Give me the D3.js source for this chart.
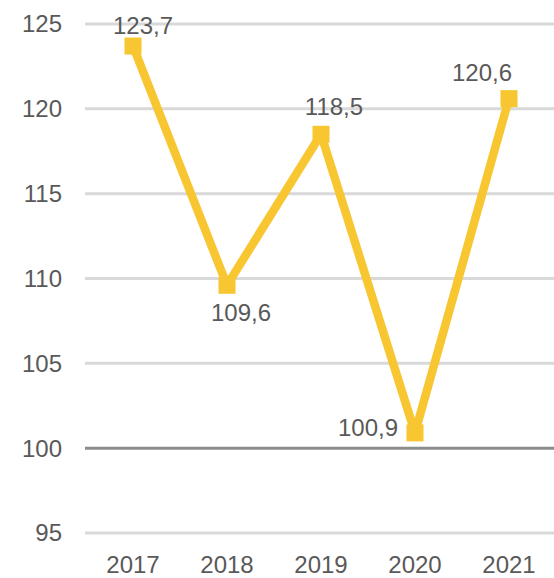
<!DOCTYPE html>
<html>
<head>
<meta charset="utf-8">
<script src="https://cdn.jsdelivr.net/npm/d3@7"></script>
<style>
  body { margin: 0; background: #fff; }
  svg text { font-family: "Liberation Sans", Arial, sans-serif; fill: #595959; }
</style>
</head>
<body>
<section></section>
<script>
var width = 554, height = 578;

var years = ["2017", "2018", "2019", "2020", "2021"];
var values = [123.7, 109.6, 118.5, 100.9, 120.6];
var yTicks = [95, 100, 105, 110, 115, 120, 125];
// where each value label sits relative to its marker
var labelOffsets = [[10, -20], [14, 27], [13, -28], [-47, -5], [-27, -26]];

var data = years.map(function(y, i) { return {year: y, value: values[i]}; });

var svg = d3.select("section").append("svg")
  .attr("width", width)
  .attr("height", height);

var xScale = d3.scaleBand()
  .domain(years)
  .range([86, 556]);

var yScale = d3.scaleLinear()
  .domain([95, 125])
  .range([533, 24]);

// gridlines
svg.append("g").selectAll("line")
  .data(yTicks)
  .enter().append("line")
  .attr("x1", 85).attr("x2", width)
  .attr("y1", function(d) { return yScale(d); })
  .attr("y2", function(d) { return yScale(d); })
  .attr("stroke", function(d) { return d === 100 ? "#8c8c8c" : "#d9d9d9"; })
  .attr("stroke-width", 3);

// y axis labels
svg.append("g").selectAll("text")
  .data(yTicks)
  .enter().append("text")
  .attr("x", 62)
  .attr("y", function(d) { return yScale(d); })
  .attr("dy", "0.35em")
  .attr("text-anchor", "end")
  .style("font-size", "24px")
  .text(function(d) { return d; });

// x axis labels
svg.append("g").selectAll("text")
  .data(years)
  .enter().append("text")
  .attr("x", function(d) { return xScale(d) + xScale.bandwidth() / 2; })
  .attr("y", 573)
  .attr("text-anchor", "middle")
  .style("font-size", "24px")
  .text(function(d) { return d; });

var cx = function(d) { return xScale(d.year) + xScale.bandwidth() / 2; };

var line = d3.line()
  .x(cx)
  .y(function(d) { return yScale(d.value); });

svg.append("path")
  .attr("d", line(data))
  .attr("fill", "none")
  .attr("stroke", "#f7c631")
  .attr("stroke-width", 8.5)
  .attr("stroke-linejoin", "bevel");

svg.append("g").selectAll("rect")
  .data(data)
  .enter().append("rect")
  .attr("x", function(d) { return cx(d) - 8.5; })
  .attr("y", function(d) { return yScale(d.value) - 8.5; })
  .attr("width", 17)
  .attr("height", 17)
  .attr("fill", "#f7c631");

svg.append("g").selectAll("text")
  .data(data)
  .enter().append("text")
  .attr("x", function(d, i) { return cx(d) + labelOffsets[i][0]; })
  .attr("y", function(d, i) { return yScale(d.value) + labelOffsets[i][1]; })
  .attr("dy", "0.35em")
  .attr("text-anchor", "middle")
  .style("font-size", "24px")
  .text(function(d) { return d3.format(".1f")(d.value).replace(".", ","); });
</script>
</body>
</html>
